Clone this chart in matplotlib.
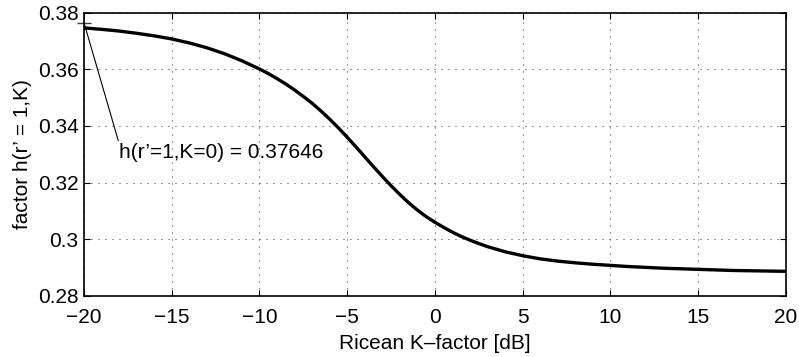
import matplotlib
matplotlib.use('Agg')
import matplotlib.pyplot as plt

plt.rcParams['font.family'] = ['Liberation Sans', 'DejaVu Sans']
plt.rcParams['axes.unicode_minus'] = True

# Ricean K-factor in dB and the factor h(r'=1,K)
# (finer steps where the curve bends most)
k_db = [-20, -19, -18, -17, -16, -15, -14, -13, -12, -11,
        -10, -9.5, -9, -8.5, -8, -7.5, -7, -6.5, -6, -5.5,
        -5, -4.5, -4, -3.5, -3, -2.5, -2, -1.5, -1, -0.5,
        0, 0.5, 1, 1.5, 2, 2.5, 3, 3.5, 4, 4.5,
        5, 6, 7, 8, 9, 10, 11, 12, 13, 14,
        15, 16, 17, 18, 19, 20]
h_vals = [0.3746, 0.3741, 0.3735, 0.3727, 0.3718, 0.3707, 0.3693, 0.3676, 0.3655, 0.3630,
          0.3601, 0.3585, 0.3567, 0.3548, 0.3527, 0.3504, 0.3480, 0.3453, 0.3424, 0.3393,
          0.3360, 0.3326, 0.3291, 0.3256, 0.3222, 0.3189, 0.3158, 0.3129, 0.3103, 0.3080,
          0.3060, 0.3042, 0.3025, 0.3010, 0.2997, 0.2985, 0.2974, 0.2965, 0.2956, 0.2949,
          0.2942, 0.2931, 0.2923, 0.2917, 0.2912, 0.2908, 0.2904, 0.2901, 0.2898, 0.2896,
          0.2894, 0.2892, 0.2890, 0.2889, 0.2888, 0.2887]

# data tip at K = 0 (linear), shown at the left edge
tip_x = -20
tip_y = 0.37646
tip_text = "h(r\u2019=1,K=0) = 0.37646"

x_ticks = [-20, -15, -10, -5, 0, 5, 10, 15, 20]
y_ticks = [0.28, 0.30, 0.32, 0.34, 0.36, 0.38]
y_ticklabels = ['0.28', '0.3', '0.32', '0.34', '0.36', '0.38']

fig = plt.figure(figsize=(7.99, 3.57), dpi=100)
ax = fig.add_axes([0.1051, 0.1709, 0.8786, 0.7938])

ax.plot(k_db, h_vals, color='black', lw=2.4, solid_joinstyle='round')

ax.set_xlim(-20, 20)
ax.set_ylim(0.28, 0.38)
ax.set_xticks(x_ticks)
ax.set_yticks(y_ticks)
ax.set_yticklabels(y_ticklabels)

ax.grid(True, color='0.2', linestyle=(0, (1, 6)), linewidth=0.72)
ax.tick_params(direction='in', length=4.5, width=0.8, top=True, right=True,
               labelsize=15, colors='black')
ax.tick_params(axis='x', pad=9)
ax.tick_params(axis='y', pad=4)
for s in ax.spines.values():
    s.set_linewidth(1.2)

ax.set_xlabel('Ricean K\u2013factor [dB]', fontsize=15, labelpad=5)
ax.set_ylabel('factor h(r\u2019 = 1,K)', fontsize=15, labelpad=4)

# data tip marker and label
ax.plot([tip_x], [tip_y], marker='_', markersize=9.5, mew=1.0, color='0.25',
        clip_on=False)
ax.annotate(tip_text, xy=(tip_x, tip_y), xytext=(-18.0, 0.3305),
            fontsize=15, ha='left', va='center',
            arrowprops=dict(arrowstyle='-', lw=0.8, color='black',
                            shrinkA=0, shrinkB=0, relpos=(0, 1)))

fig.savefig('out.png', dpi=100)
